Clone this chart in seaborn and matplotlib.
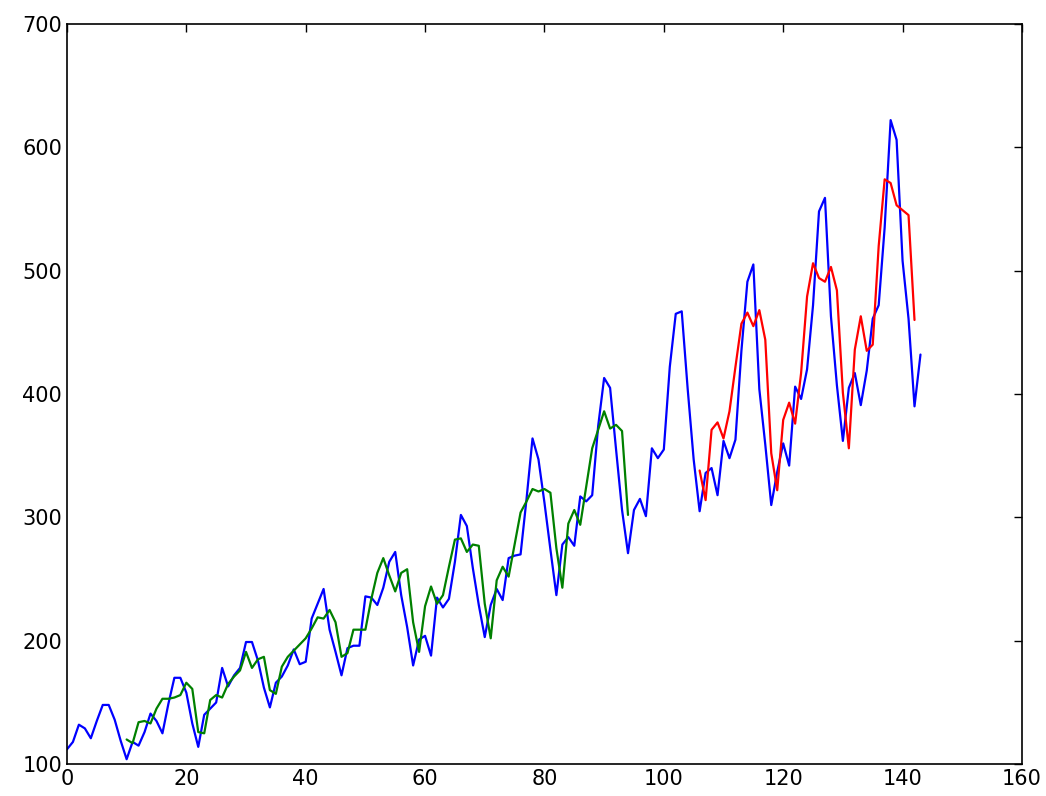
import numpy as np
import matplotlib
matplotlib.use("Agg")
import matplotlib.pyplot as plt
import seaborn as sns

# monthly airline passengers, 1949-1960
passengers = [
    112, 118, 132, 129, 121, 135, 148, 148, 136, 119, 104, 118,
    115, 126, 141, 135, 125, 149, 170, 170, 158, 133, 114, 140,
    145, 150, 178, 163, 172, 178, 199, 199, 184, 162, 146, 166,
    171, 180, 193, 181, 183, 218, 230, 242, 209, 191, 172, 194,
    196, 196, 236, 235, 229, 243, 264, 272, 237, 211, 180, 201,
    204, 188, 235, 227, 234, 264, 302, 293, 259, 229, 203, 229,
    242, 233, 267, 269, 270, 315, 364, 347, 312, 274, 237, 278,
    284, 277, 317, 313, 318, 374, 413, 405, 355, 306, 271, 306,
    315, 301, 356, 348, 355, 422, 465, 467, 404, 347, 305, 336,
    340, 318, 362, 348, 363, 435, 491, 505, 404, 359, 310, 337,
    360, 342, 406, 396, 420, 472, 548, 559, 463, 407, 362, 405,
    417, 391, 419, 461, 472, 535, 622, 606, 508, 461, 390, 432,
]

look_back = 10

train_predict = [
    120, 117, 134, 135, 133, 145, 153, 153, 154, 156,
    166, 161, 126, 125, 152, 156, 154, 165, 171, 176,
    191, 178, 185, 187, 160, 157, 179, 187, 192, 197,
    202, 210, 219, 218, 225, 215, 187, 190, 209, 209,
    209, 234, 255, 267, 253, 240, 255, 258, 215, 191,
    228, 244, 230, 237, 260, 282, 283, 272, 278, 277,
    230, 202, 249, 260, 252, 278, 304, 313, 323, 321,
    323, 320, 275, 243, 295, 306, 294, 325, 356, 371,
    386, 372, 375, 370, 302,
]

test_predict = [
    338, 314, 371, 377, 364, 386, 422, 457, 466, 455,
    468, 444, 352, 322, 379, 393, 376, 417, 479, 506,
    494, 491, 503, 484, 401, 356, 436, 463, 435, 440,
    520, 574, 571, 553, 549, 545, 460,
]

x_all = np.arange(len(passengers))
x_train = np.arange(look_back, look_back + len(train_predict))
test_start = len(train_predict) + look_back * 2 + 1
x_test = np.arange(test_start, test_start + len(test_predict))

sns.set_style("white")
plt.rcParams["font.family"] = ["DejaVu Sans"]

fig, ax = plt.subplots(figsize=(10.46, 7.96), dpi=100)
fig.subplots_adjust(left=0.064, right=0.977, top=0.970, bottom=0.040)

sns.lineplot(x=x_all, y=passengers, ax=ax, color=(0, 0, 1), linewidth=1.6)
sns.lineplot(x=x_train, y=train_predict, ax=ax, color=(0, 0.5, 0), linewidth=1.6)
sns.lineplot(x=x_test, y=test_predict, ax=ax, color=(1, 0, 0), linewidth=1.6)

ax.set_xlim(0, 160)
ax.set_ylim(100, 700)
ax.set_xticks(range(0, 161, 20))
ax.set_yticks(range(100, 701, 100))
ax.tick_params(direction="in", length=6, width=1, top=True, right=True,
               labelsize=15, colors="black")
for s in ax.spines.values():
    s.set_color("black")
    s.set_linewidth(1.2)

plt.savefig("out.png")
